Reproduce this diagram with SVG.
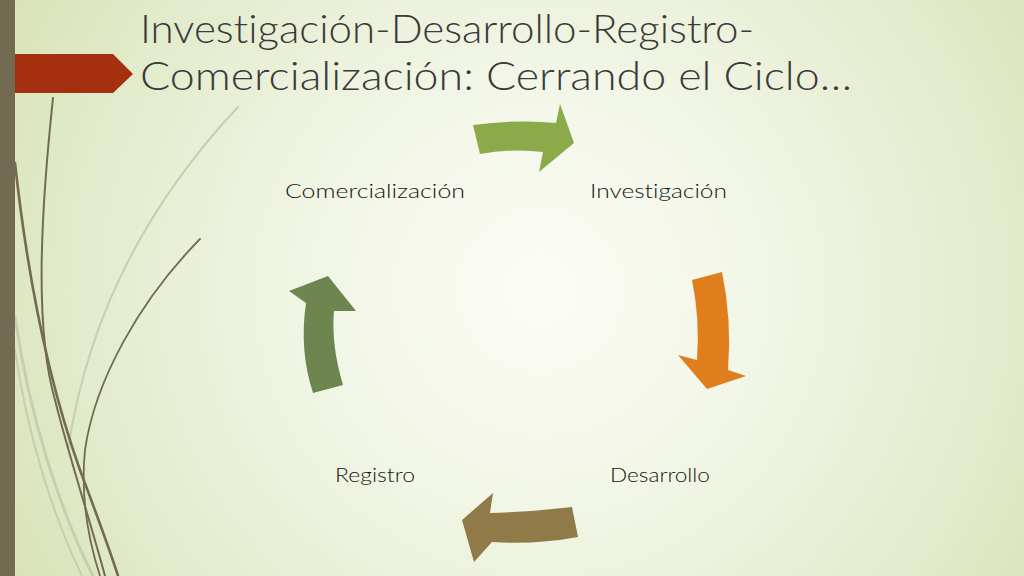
<svg xmlns="http://www.w3.org/2000/svg" width="1024" height="576" viewBox="0 0 1024 576">
<defs>
<radialGradient id="bg" cx="540" cy="290" r="620" gradientUnits="userSpaceOnUse">
<stop offset="0" stop-color="#FBFCF6"/>
<stop offset="0.35" stop-color="#F2F6E6"/>
<stop offset="0.75" stop-color="#E2EBCB"/>
<stop offset="1" stop-color="#D6E2B6"/>
</radialGradient>
<style>
.lbl{font-family:Lato,"Liberation Sans","DejaVu Sans",sans-serif;font-weight:300;font-size:19px;fill:#141414;font-variant-ligatures:none}
.ttl{font-family:Lato,"Liberation Sans","DejaVu Sans",sans-serif;font-weight:300;font-size:39px;fill:#3A3A3A;font-variant-ligatures:none}
.dk{fill:none;stroke:#736A52;stroke-linecap:round}
.lt{fill:none;stroke:#C6CFB0;stroke-linecap:round}
</style>
</defs>
<rect width="1024" height="576" fill="url(#bg)"/>
<g id="decor">
<path class="lt" d="M238,107 C160,190 90,300 68,450" stroke-width="2"/>
<path class="lt" d="M15,317 C30,420 60,510 93,576" stroke-width="3"/>
<path class="lt" d="M15,350 C28,440 55,520 82,576" stroke-width="2"/>
<path class="dk" d="M53,98 C40,220 35,330 55,400 C70,460 90,520 105,576" stroke-width="2"/>
<path class="dk" d="M15,163 C30,300 55,400 80,470 C95,510 110,550 118,576" stroke-width="2.6"/>
<path class="dk" d="M200,239 C140,300 95,380 85,450 C80,500 90,545 100,576" stroke-width="1.8"/>
</g>
<g id="banner">
<path d="M0,54 L113,54 L133,74 L113,93 L0,93 Z" fill="#A5300F"/>
<rect x="0" y="0" width="15" height="576" fill="#736A52"/>
</g>
<g id="title">
<text class="ttl" x="140" y="43" textLength="614" lengthAdjust="spacingAndGlyphs">Investigación-Desarrollo-Registro-</text>
<text class="ttl" x="140" y="90" textLength="712" lengthAdjust="spacingAndGlyphs">Comercialización: Cerrando el Ciclo…</text>
</g>
<g id="connectors">
<path d="M473,125 Q520,119 556,123 L560,104 L574,143 L539,172 L543,152 Q513,148 480,154 Z" fill="#8BAA4A"/>
<path d="M692,280 L722,272 Q732,320 728,370 L746,376 L707,389 L678,355 L697,360 Q700,318 692,280 Z" fill="#E07E1E"/>
<path d="M572,507 L578,537 Q535,545 492,542 L474,562 L462,520 L493,493 L490,513 Q530,512 572,507 Z" fill="#8F7A48"/>
<path d="M313,393 L343,385 Q331,345 334,311 L356,311 L328,276 L289,291 L306,303 Q299,350 313,393 Z" fill="#6D8650"/>
</g>
<g id="node-investigacion"><text class="lbl" x="590" y="198" textLength="137" lengthAdjust="spacingAndGlyphs">Investigación</text></g>
<g id="node-desarrollo"><text class="lbl" x="610" y="482" textLength="100" lengthAdjust="spacingAndGlyphs">Desarrollo</text></g>
<g id="node-registro"><text class="lbl" x="335" y="482" textLength="80" lengthAdjust="spacingAndGlyphs">Registro</text></g>
<g id="node-comercializacion"><text class="lbl" x="285" y="198" textLength="180" lengthAdjust="spacingAndGlyphs">Comercialización</text></g>
</svg>
